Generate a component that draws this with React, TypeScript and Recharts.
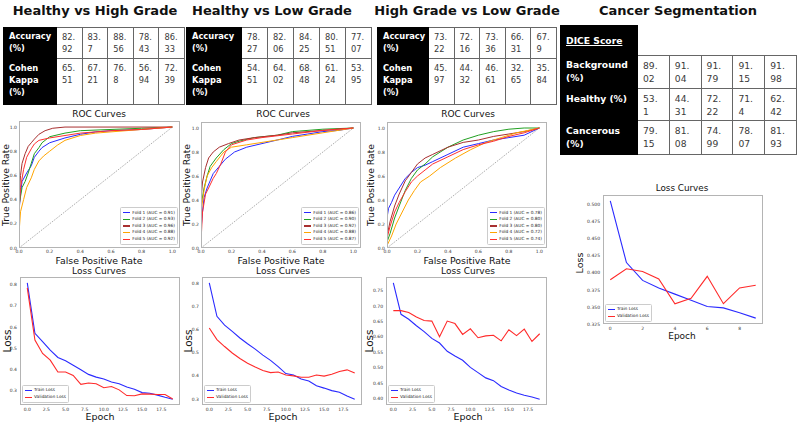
import React from "react";
import { LineChart, Line, XAxis, YAxis, Legend } from "recharts";

// ---- table values (per fold) ----
const hvhAccuracy = [82.92, 83.7, 88.56, 78.43, 86.33];
const hvhKappa = [65.51, 67.21, 76.8, 56.94, 72.39];
const hvlAccuracy = [78.27, 82.06, 84.25, 80.51, 77.07];
const hvlKappa = [54.51, 64.02, 68.48, 61.24, 53.95];
const hglAccuracy = [73.22, 72.16, 73.36, 66.31, 67.9];
const hglKappa = [45.97, 44.32, 46.61, 32.65, 35.84];
const diceBackground = [89.02, 91.04, 91.79, 91.15, 91.98];
const diceHealthy = [53.1, 44.31, 72.22, 71.4, 62.42];
const diceCancerous = [79.15, 81.08, 74.99, 78.07, 81.93];

// ---- ROC curves: [fpr, tpr] per fold ----
const hvhAuc = [0.91, 0.93, 0.96, 0.88, 0.92];
const hvhFolds = [
  [[0, 0], [0, 0.3], [0.01, 0.45], [0.02, 0.55], [0.05, 0.62], [0.08, 0.68], [0.1, 0.75], [0.13, 0.8], [0.15, 0.83], [0.2, 0.87], [0.3, 0.91], [0.4, 0.94], [0.5, 0.96], [0.6, 0.97], [0.8, 0.98], [1, 1]],
  [[0, 0], [0, 0.35], [0.02, 0.5], [0.04, 0.55], [0.06, 0.62], [0.08, 0.7], [0.1, 0.78], [0.13, 0.83], [0.15, 0.87], [0.2, 0.92], [0.3, 0.95], [0.4, 0.97], [0.6, 0.98], [0.8, 0.99], [1, 1]],
  [[0, 0], [0, 0.4], [0.01, 0.6], [0.02, 0.7], [0.04, 0.78], [0.06, 0.84], [0.08, 0.87], [0.1, 0.9], [0.13, 0.94], [0.17, 0.97], [0.22, 0.99], [0.3, 1], [1, 1]],
  [[0, 0], [0, 0.12], [0.01, 0.3], [0.03, 0.4], [0.05, 0.5], [0.08, 0.58], [0.1, 0.65], [0.13, 0.72], [0.16, 0.76], [0.2, 0.8], [0.25, 0.85], [0.3, 0.89], [0.4, 0.93], [0.5, 0.95], [0.6, 0.96], [0.8, 0.98], [1, 1]],
  [[0, 0], [0, 0.3], [0.01, 0.5], [0.03, 0.65], [0.05, 0.75], [0.08, 0.82], [0.1, 0.86], [0.13, 0.89], [0.2, 0.91], [0.3, 0.93], [0.4, 0.95], [0.6, 0.97], [0.8, 0.98], [1, 1]],
];
const hvlAuc = [0.86, 0.9, 0.92, 0.88, 0.87];
const hvlFolds = [
  [[0, 0], [0, 0.15], [0.01, 0.3], [0.02, 0.42], [0.04, 0.5], [0.06, 0.56], [0.08, 0.62], [0.12, 0.68], [0.16, 0.74], [0.22, 0.8], [0.3, 0.84], [0.4, 0.87], [0.5, 0.9], [0.6, 0.93], [0.7, 0.95], [0.8, 0.97], [0.9, 0.98], [1, 1]],
  [[0, 0], [0, 0.35], [0.02, 0.5], [0.04, 0.6], [0.06, 0.68], [0.1, 0.75], [0.15, 0.82], [0.2, 0.87], [0.25, 0.89], [0.35, 0.92], [0.5, 0.94], [0.6, 0.97], [0.8, 0.99], [1, 1]],
  [[0, 0], [0, 0.4], [0.01, 0.55], [0.03, 0.67], [0.05, 0.75], [0.08, 0.8], [0.12, 0.84], [0.18, 0.87], [0.25, 0.9], [0.35, 0.92], [0.5, 0.94], [0.6, 0.96], [0.8, 0.98], [1, 1]],
  [[0, 0], [0, 0.3], [0.02, 0.48], [0.04, 0.6], [0.07, 0.67], [0.1, 0.72], [0.15, 0.8], [0.2, 0.84], [0.3, 0.86], [0.4, 0.88], [0.5, 0.9], [0.6, 0.92], [0.8, 0.96], [1, 1]],
  [[0, 0], [0, 0.05], [0.01, 0.3], [0.03, 0.45], [0.05, 0.5], [0.08, 0.58], [0.1, 0.62], [0.13, 0.7], [0.16, 0.8], [0.2, 0.86], [0.3, 0.9], [0.4, 0.92], [0.6, 0.95], [0.8, 0.98], [1, 1]],
];
const hglAuc = [0.78, 0.8, 0.8, 0.72, 0.74];
const hglFolds = [
  [[0, 0], [0, 0.25], [0.01, 0.33], [0.03, 0.38], [0.05, 0.44], [0.08, 0.5], [0.12, 0.58], [0.16, 0.63], [0.2, 0.67], [0.25, 0.69], [0.3, 0.72], [0.4, 0.78], [0.5, 0.84], [0.6, 0.87], [0.7, 0.9], [0.8, 0.92], [0.9, 0.94], [1, 1]],
  [[0, 0], [0, 0.05], [0.02, 0.12], [0.05, 0.25], [0.08, 0.35], [0.12, 0.48], [0.16, 0.58], [0.2, 0.65], [0.25, 0.7], [0.3, 0.76], [0.4, 0.84], [0.5, 0.9], [0.6, 0.94], [0.7, 0.97], [0.8, 0.99], [0.9, 1], [1, 1]],
  [[0, 0], [0, 0.1], [0.02, 0.22], [0.05, 0.35], [0.08, 0.45], [0.12, 0.56], [0.16, 0.63], [0.2, 0.7], [0.25, 0.75], [0.3, 0.78], [0.4, 0.84], [0.5, 0.88], [0.6, 0.9], [0.7, 0.93], [0.8, 0.95], [0.9, 0.97], [1, 1]],
  [[0, 0], [0, 0.02], [0.03, 0.1], [0.06, 0.2], [0.1, 0.3], [0.14, 0.4], [0.18, 0.48], [0.22, 0.55], [0.28, 0.6], [0.35, 0.67], [0.45, 0.75], [0.55, 0.82], [0.65, 0.88], [0.75, 0.92], [0.85, 0.96], [1, 1]],
  [[0, 0], [0, 0.08], [0.02, 0.18], [0.05, 0.3], [0.08, 0.38], [0.12, 0.47], [0.16, 0.55], [0.2, 0.6], [0.25, 0.65], [0.3, 0.7], [0.4, 0.76], [0.5, 0.82], [0.6, 0.86], [0.7, 0.89], [0.8, 0.93], [0.9, 0.96], [1, 1]],
];
const chanceLine = [{ fpr: 0, tpr: 0 }, { fpr: 1, tpr: 1 }];
const rocTicks = [0, 0.2, 0.4, 0.6, 0.8, 1.0];

// ---- loss curves ----
const epochs20 = [0, 1, 2, 3, 4, 5, 6, 7, 8, 9, 10, 11, 12, 13, 14, 15, 16, 17, 18, 19];
const hvhTrain = [0.808, 0.57, 0.53, 0.49, 0.456, 0.44, 0.419, 0.398, 0.376, 0.363, 0.354, 0.34, 0.332, 0.316, 0.306, 0.29, 0.287, 0.278, 0.268, 0.259];
const hvhVal = [0.784, 0.538, 0.475, 0.443, 0.387, 0.387, 0.371, 0.329, 0.335, 0.332, 0.313, 0.319, 0.303, 0.276, 0.275, 0.284, 0.283, 0.281, 0.281, 0.26];
const hvlTrain = [0.803, 0.658, 0.62, 0.593, 0.564, 0.539, 0.516, 0.49, 0.467, 0.44, 0.41, 0.404, 0.386, 0.378, 0.357, 0.347, 0.336, 0.329, 0.313, 0.299];
const hvlVal = [0.607, 0.557, 0.527, 0.499, 0.475, 0.455, 0.438, 0.423, 0.414, 0.417, 0.404, 0.4, 0.394, 0.394, 0.404, 0.399, 0.407, 0.419, 0.426, 0.412];
const hglTrain = [0.775, 0.673, 0.657, 0.636, 0.617, 0.595, 0.58, 0.553, 0.538, 0.524, 0.501, 0.484, 0.467, 0.458, 0.439, 0.428, 0.418, 0.411, 0.405, 0.398];
const hglVal = [0.685, 0.685, 0.679, 0.664, 0.653, 0.651, 0.6, 0.651, 0.643, 0.608, 0.626, 0.597, 0.603, 0.605, 0.587, 0.623, 0.604, 0.625, 0.585, 0.61];
const epochs10 = [0, 1, 2, 3, 4, 5, 6, 7, 8, 9];
const segTrain = [0.505, 0.415, 0.389, 0.378, 0.369, 0.36, 0.351, 0.349, 0.342, 0.334];
const segVal = [0.39, 0.406, 0.402, 0.391, 0.355, 0.363, 0.395, 0.355, 0.378, 0.382];

const epochTicks20 = [0, 2.5, 5, 7.5, 10, 12.5, 15, 17.5];
const epochTicks10 = [0, 2, 4, 6, 8];
const lossTicksA = [0.3, 0.4, 0.5, 0.6, 0.7, 0.8];
const lossTicksB = [0.4, 0.45, 0.5, 0.55, 0.6, 0.65, 0.7, 0.75];
const lossTicksC = [0.325, 0.35, 0.375, 0.4, 0.425, 0.45, 0.475, 0.5];

const foldColors = ["#2a2aff", "#22a022", "#a83030", "#ffa500", "#ff3030"];
const TRAIN = "#2a2aff";
const VAL = "#ff2a2a";
const FONT = "'DejaVu Sans', sans-serif";
const TICK = { fontSize: 4.5, fill: "#333", fontFamily: FONT };

const YW = 18;
const XH = 10;
const MT = 4;
const MR = 4;

const pad5 = ([lo, hi]: [number, number]) => [lo - (hi - lo) * 0.05, hi + (hi - lo) * 0.05];

function Txt({ x, y, size, bold, rotate, children }: any) {
  return (
    <div
      style={{
        position: "absolute",
        left: x,
        top: y,
        transform: `translate(-50%, -50%)${rotate ? " rotate(-90deg)" : ""}`,
        fontSize: size,
        fontWeight: bold ? "bold" : "normal",
        fontFamily: FONT,
        color: "#111",
        whiteSpace: "nowrap",
        lineHeight: 1,
      }}
    >
      {children}
    </div>
  );
}

function Frame({ x, y, w, h }: any) {
  return (
    <div
      style={{
        position: "absolute",
        left: x,
        top: y,
        width: w,
        height: h,
        border: "1px solid #b4b4b4",
        boxSizing: "border-box",
        pointerEvents: "none",
      }}
    />
  );
}

const LegendBox = ({ payload }: any) => (
  <div
    style={{
      background: "rgba(255,255,255,0.85)",
      border: "0.6px solid #ccc",
      borderRadius: 1.5,
      padding: "1.5px 2px",
      fontFamily: FONT,
      fontSize: 4.3,
      color: "#222",
      lineHeight: "6.6px",
    }}
  >
    {(payload || [])
      .filter((p: any) => p.type !== "none")
      .map((p: any) => (
        <div key={p.value} style={{ display: "flex", alignItems: "center", whiteSpace: "nowrap" }}>
          <span style={{ display: "inline-block", width: 7, height: 1.1, background: p.color, marginRight: 2 }} />
          {p.value}
        </div>
      ))}
  </div>
);

function RocChart({ x, y, w, h, folds, aucs }: any) {
  return (
    <>
      <div style={{ position: "absolute", left: x - YW, top: y - MT }}>
        <LineChart width={YW + w + MR} height={MT + h + XH} margin={{ top: MT, right: MR, left: 0, bottom: 0 }}>
          <XAxis type="number" dataKey="fpr" domain={[0, 1.05]} ticks={rocTicks} tickFormatter={(v: number) => v.toFixed(1)}
            tick={TICK} tickLine={false} axisLine={false} tickSize={1} tickMargin={1} height={XH} allowDataOverflow />
          <YAxis type="number" dataKey="tpr" domain={[0, 1.05]} ticks={rocTicks} tickFormatter={(v: number) => v.toFixed(1)}
            tick={TICK} tickLine={false} axisLine={false} tickSize={1} tickMargin={1} width={YW} allowDataOverflow />
          {folds.map((f: number[][], i: number) => (
            <Line key={i} data={f.map(([fpr, tpr]) => ({ fpr, tpr }))} dataKey="tpr" type="linear"
              name={`Fold ${i + 1} (AUC = ${aucs[i].toFixed(2)})`} stroke={foldColors[i]} strokeWidth={1}
              dot={false} isAnimationActive={false} />
          ))}
          <Line data={chanceLine} dataKey="tpr" name="chance" type="linear" stroke="#777" strokeWidth={0.6} strokeDasharray="1.6 1.2"
            dot={false} legendType="none" isAnimationActive={false} />
          <Legend layout="vertical" align="center" verticalAlign="middle" content={LegendBox}
            wrapperStyle={{ right: MR + 2, bottom: XH + 3 }} />
        </LineChart>
      </div>
      <Frame x={x} y={y} w={w} h={h} />
    </>
  );
}

function LossChart({ x, y, w, h, epochs, train, val, xTicks, yTicks, xDec, yDec }: any) {
  const rows = epochs.map((e: number, i: number) => ({ epoch: e, train: train[i], val: val[i] }));
  return (
    <>
      <div style={{ position: "absolute", left: x - YW, top: y - MT }}>
        <LineChart width={YW + w + MR} height={MT + h + XH} data={rows} margin={{ top: MT, right: MR, left: 0, bottom: 0 }}>
          <XAxis type="number" dataKey="epoch" domain={pad5} ticks={xTicks} tickFormatter={(v: number) => v.toFixed(xDec)}
            tick={TICK} tickLine={false} axisLine={false} tickSize={1} tickMargin={1.5} height={XH} />
          <YAxis type="number" domain={pad5} ticks={yTicks} tickFormatter={(v: number) => v.toFixed(yDec)}
            tick={TICK} tickLine={false} axisLine={false} tickSize={1} tickMargin={2} width={YW} />
          <Line dataKey="train" name="Train Loss" type="linear" stroke={TRAIN} strokeWidth={1.1} dot={false} isAnimationActive={false} />
          <Line dataKey="val" name="Validation Loss" type="linear" stroke={VAL} strokeWidth={1.1} dot={false} isAnimationActive={false} />
          <Legend layout="vertical" align="center" verticalAlign="middle" content={LegendBox}
            wrapperStyle={{ left: YW + 2, bottom: XH + 2 }} />
        </LineChart>
      </div>
      <Frame x={x} y={y} w={w} h={h} />
    </>
  );
}

function NumCell({ v }: any) {
  const [a, b] = String(v).split(".");
  return (
    <>
      {a}.
      <br />
      {b}
    </>
  );
}

function MetricTable({ left, top, labelW, cellW, rows, fontSize, lineH, padTop, header }: any) {
  const els: any[] = [];
  let y = top;
  if (header) {
    els.push(
      <div key="hdr" style={{ position: "absolute", left, top: y, width: labelW, height: header.h, background: "#000", color: "#fff",
        fontWeight: "bold", fontSize, lineHeight: `${lineH}px`, boxSizing: "border-box", padding: `${header.pad}px 0 0 6px`, textDecoration: "underline" }}>
        {header.text}
      </div>
    );
    y += header.h;
  }
  rows.forEach((r: any, ri: number) => {
    els.push(
      <div key={`l${ri}`} style={{ position: "absolute", left, top: y, width: labelW, height: r.h, background: "#000", color: "#fff",
        fontWeight: "bold", fontSize, lineHeight: `${lineH}px`, boxSizing: "border-box", padding: `${padTop}px 0 0 6px` }}>
        {r.label.map((t: string, k: number) => (
          <div key={k}>{t}</div>
        ))}
      </div>
    );
    r.values.forEach((v: number, ci: number) => {
      els.push(
        <div key={`c${ri}-${ci}`} style={{ position: "absolute", left: left + labelW + ci * cellW, top: y, width: cellW, height: r.h,
          borderRight: "1px solid #666", borderBottom: "1px solid #666", borderTop: ri === 0 ? "1px solid #666" : undefined,
          boxSizing: "border-box", color: "#3a3a3a", fontSize, lineHeight: `${lineH}px`, padding: `${padTop}px 0 0 5px` }}>
          <NumCell v={v} />
        </div>
      );
    });
    y += r.h;
  });
  return <div style={{ fontFamily: FONT }}>{els}</div>;
}

export default function App() {
  return (
    <div style={{ position: "absolute", left: 0, top: 0, width: 798, height: 425, background: "#fff", overflow: "hidden", fontFamily: FONT }}>
      <Txt x={95} y={10} size={13} bold>Healthy vs High Grade</Txt>
      <Txt x={272} y={10} size={13} bold>Healthy vs Low Grade</Txt>
      <Txt x={467} y={10} size={13} bold>High Grade vs Low Grade</Txt>
      <Txt x={678} y={10} size={13} bold>Cancer Segmentation</Txt>

      <MetricTable left={3} top={27} labelW={54} cellW={25.6} fontSize={8.3} lineH={12} padTop={2.5}
        rows={[{ label: ["Accuracy", "(%)"], values: hvhAccuracy, h: 32 }, { label: ["Cohen", "Kappa", "(%)"], values: hvhKappa, h: 46 }]} />
      <MetricTable left={186} top={27} labelW={56} cellW={26} fontSize={8.3} lineH={12} padTop={2.5}
        rows={[{ label: ["Accuracy", "(%)"], values: hvlAccuracy, h: 32 }, { label: ["Cohen", "Kappa", "(%)"], values: hvlKappa, h: 46 }]} />
      <MetricTable left={377} top={27} labelW={52} cellW={25.6} fontSize={8.3} lineH={12} padTop={2.5}
        rows={[{ label: ["Accuracy", "(%)"], values: hglAccuracy, h: 32 }, { label: ["Cohen", "Kappa", "(%)"], values: hglKappa, h: 46 }]} />
      <MetricTable left={560} top={25} labelW={78} cellW={31.8} fontSize={9.2} lineH={13} padTop={3}
        header={{ text: "DICE Score", h: 30, pad: 9 }}
        rows={[
          { label: ["Background", "(%)"], values: diceBackground, h: 34 },
          { label: ["Healthy (%)"], values: diceHealthy, h: 32 },
          { label: ["Cancerous", "(%)"], values: diceCancerous, h: 34 },
        ]} />

      {/* ROC curves */}
      <Txt x={99} y={114} size={9}>ROC Curves</Txt>
      <Txt x={283} y={114} size={9}>ROC Curves</Txt>
      <Txt x={468} y={114} size={9}>ROC Curves</Txt>
      <RocChart x={19} y={121} w={161} h={127} folds={hvhFolds} aucs={hvhAuc} />
      <RocChart x={201} y={122} w={160} h={126} folds={hvlFolds} aucs={hvlAuc} />
      <RocChart x={387} y={122} w={160} h={126} folds={hglFolds} aucs={hglAuc} />
      <Txt x={6} y={185} size={9.2} rotate>True Positive Rate</Txt>
      <Txt x={187} y={185} size={9.2} rotate>True Positive Rate</Txt>
      <Txt x={371} y={185} size={9.2} rotate>True Positive Rate</Txt>
      <Txt x={99} y={261} size={9.4}>False Positive Rate</Txt>
      <Txt x={281} y={261} size={9.4}>False Positive Rate</Txt>
      <Txt x={467} y={261} size={9.4}>False Positive Rate</Txt>

      {/* Loss curves */}
      <Txt x={99} y={271} size={9}>Loss Curves</Txt>
      <Txt x={283} y={271} size={9}>Loss Curves</Txt>
      <Txt x={468} y={271} size={9}>Loss Curves</Txt>
      <LossChart x={20} y={277} w={160} h={128} epochs={epochs20} train={hvhTrain} val={hvhVal} xTicks={epochTicks20} yTicks={lossTicksA} xDec={1} yDec={1} />
      <LossChart x={202} y={277} w={160} h={128} epochs={epochs20} train={hvlTrain} val={hvlVal} xTicks={epochTicks20} yTicks={lossTicksA} xDec={1} yDec={1} />
      <LossChart x={386} y={277} w={161} h={128} epochs={epochs20} train={hglTrain} val={hglVal} xTicks={epochTicks20} yTicks={lossTicksB} xDec={1} yDec={2} />
      <Txt x={7} y={341} size={10.5} rotate>Loss</Txt>
      <Txt x={188} y={341} size={10.5} rotate>Loss</Txt>
      <Txt x={369} y={341} size={10.5} rotate>Loss</Txt>
      <Txt x={100} y={417} size={9.5}>Epoch</Txt>
      <Txt x={283} y={417} size={9.5}>Epoch</Txt>
      <Txt x={468} y={417} size={9.5}>Epoch</Txt>

      <Txt x={682} y={188} size={8.8}>Loss Curves</Txt>
      <LossChart x={603} y={195} w={160} h={129} epochs={epochs10} train={segTrain} val={segVal} xTicks={epochTicks10} yTicks={lossTicksC} xDec={0} yDec={3} />
      <Txt x={580} y={263} size={9.5} rotate>Loss</Txt>
      <Txt x={682} y={336} size={9}>Epoch</Txt>
    </div>
  );
}
